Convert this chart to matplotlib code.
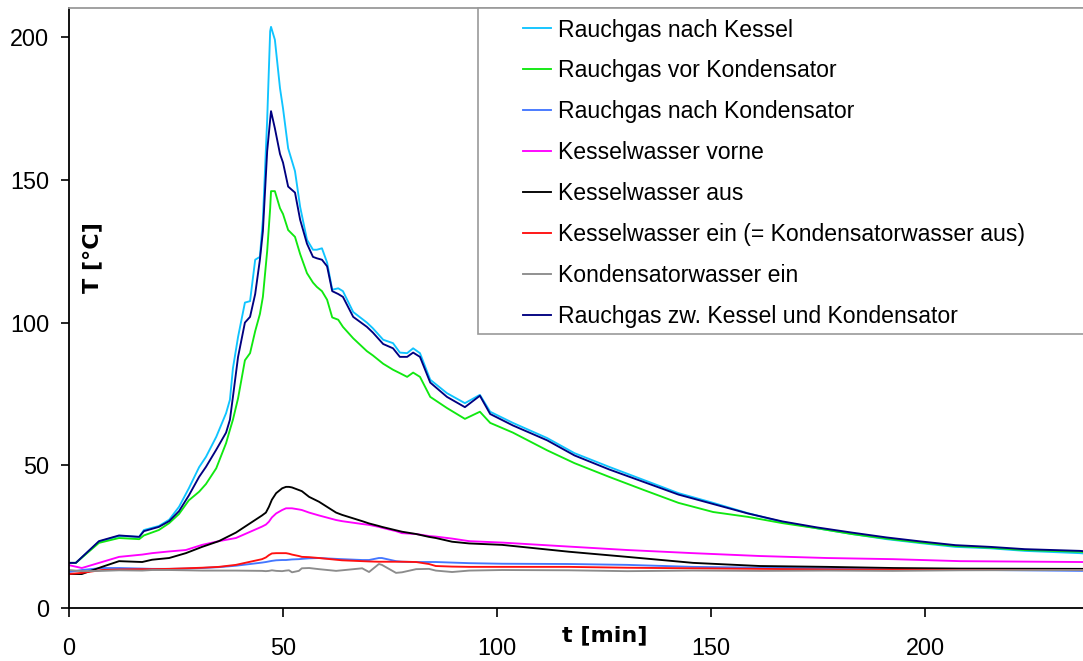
import matplotlib
matplotlib.use("Agg")
import matplotlib.pyplot as plt
from matplotlib.patches import Rectangle

plt.rcParams['font.family'] = ['Liberation Sans', 'DejaVu Sans']

# ---------------- data ----------------
labels = ["Rauchgas nach Kessel", "Rauchgas vor Kondensator", "Rauchgas nach Kondensator",
          "Kesselwasser vorne", "Kesselwasser aus", "Kesselwasser ein (= Kondensatorwasser aus)",
          "Kondensatorwasser ein", "Rauchgas zw. Kessel und Kondensator"]
colors = ["#10C4FF", "#10E810", "#4477FF", "#FF00FF", "#000000", "#FF1010", "#8C8C8C", "#000080"]

t_gas = [0, 1.6, 7.0, 11.7, 16.4, 17.5, 21.0, 23.4, 25.7, 28.0,
         30.4, 32.0, 34.4, 36.7, 37.6, 38.3, 39.5, 41.1, 42.3, 43.5,
         44.6, 45.3, 46.3, 47.0, 47.2, 48.1, 49.3, 50.0, 51.2, 52.8,
         54.0, 55.6, 57.0, 57.9, 59.1, 60.3, 61.5, 62.9, 64.0, 66.4,
         69.6, 71.0, 73.4, 75.7, 77.3, 79.0, 80.4, 82.0, 84.4, 88.3,
         92.5, 96.0, 98.4, 103.7, 111.7, 118.1, 126.2, 134.3, 142.4, 150.5,
         158.6, 166.7, 174.8, 182.9, 191.0, 199.0, 207.1, 215.2, 223.3, 236.2, 237]

T_nach_kessel = [15.9, 15.9, 23.3, 25.3, 25.0, 27.4, 28.8, 31.0, 35.5, 42.0,
                 49.4, 53.0, 60.0, 68.3, 73.0, 84.0, 95.0, 107.0, 107.5, 122.0,
                 123.0, 136.0, 171.0, 202.0, 203.5, 199.0, 182.0, 175.0, 161.0, 153.0,
                 140.5, 129.0, 125.5, 125.5, 126.0, 121.0, 111.5, 112.0, 111.0, 103.7,
                 100.0, 98.0, 94.0, 92.8, 89.5, 89.3, 91.0, 89.3, 80.0, 75.3,
                 71.8, 74.7, 68.8, 64.9, 59.6, 54.3, 49.5, 44.9, 40.3, 36.9,
                 33.3, 30.2, 28.0, 26.0, 24.2, 22.8, 21.5, 21.0, 20.1, 19.3, 19.2]

T_vor_kond = [15.9, 15.9, 22.9, 24.6, 24.2, 25.5, 27.4, 29.8, 33.0, 37.8,
              40.8, 43.5, 49.0, 57.8, 62.5, 66.0, 73.5, 86.8, 89.3, 97.0,
              103.0, 109.0, 125.0, 140.0, 146.0, 146.0, 140.0, 138.0, 132.4, 130.0,
              124.0, 117.3, 114.0, 112.5, 111.0, 108.0, 101.8, 101.0, 98.5, 94.5,
              90.0, 88.5, 85.6, 83.5, 82.3, 81.0, 82.5, 81.0, 74.0, 70.1,
              66.3, 68.8, 64.9, 61.5, 55.3, 50.8, 46.0, 41.4, 36.9, 33.7,
              32.0, 29.8, 28.0, 26.0, 24.4, 23.0, 21.8, 21.2, 20.4, 19.8, 19.7]

T_zw_kessel_kond = [15.9, 15.9, 23.5, 25.5, 25.0, 27.0, 28.5, 30.5, 34.0, 39.5,
                    46.0, 49.5, 55.5, 61.5, 66.0, 74.0, 88.0, 100.0, 102.0, 110.0,
                    122.0, 132.0, 160.0, 171.0, 174.0, 168.0, 159.0, 156.0, 147.6, 145.5,
                    136.0, 127.6, 123.0, 122.5, 122.0, 119.7, 111.0, 110.0, 109.0, 102.0,
                    98.5, 96.5, 92.5, 91.0, 88.0, 88.0, 89.5, 88.0, 79.0, 74.0,
                    70.4, 74.4, 68.0, 64.0, 58.8, 53.5, 48.6, 44.2, 39.8, 36.5,
                    33.2, 30.4, 28.3, 26.5, 24.8, 23.4, 22.1, 21.5, 20.7, 20.1, 20.0]

t_water = [0, 3.0, 7.7, 11.7, 17.1, 19.4, 23.4, 27.3, 31.1, 35.0,
           39.0, 45.1, 46.0, 46.7, 47.4, 48.4, 49.8, 50.7, 51.4, 52.1,
           53.7, 54.4, 56.1, 58.4, 62.4, 63.8, 68.5, 70.1, 72.4, 73.1,
           76.4, 77.8, 81.1, 84.1, 85.7, 89.5, 93.5, 101.2, 116.8, 130.4,
           145.8, 161.4, 177.1, 192.5, 208.2, 236.2, 237]

T_nach_kond = [12.7, 13.4, 14.1, 14.1, 13.9, 13.8, 13.8, 13.9, 14.1, 14.4,
               14.9, 16.0, 16.2, 16.4, 16.6, 16.8, 16.9, 16.9, 17.0, 17.1,
               17.2, 17.3, 17.5, 17.6, 17.3, 17.2, 16.9, 16.9, 17.6, 17.6,
               16.5, 16.3, 16.2, 16.2, 16.2, 16.0, 15.8, 15.6, 15.5, 15.2,
               14.5, 14.2, 14.0, 13.8, 13.5, 13.1, 13.1]

T_kw_vorne = [15.1, 14.1, 16.2, 18.0, 18.8, 19.3, 19.9, 20.4, 22.2, 23.5,
              24.6, 28.6, 29.3, 30.3, 31.8, 33.2, 34.4, 35.0, 35.0, 35.0,
              34.6, 34.4, 33.5, 32.5, 30.9, 30.5, 29.5, 29.2, 28.5, 28.2,
              27.0, 26.3, 26.0, 25.3, 25.1, 24.4, 23.5, 23.0, 21.6, 20.4,
              19.3, 18.3, 17.6, 17.2, 16.5, 16.2, 16.2]

T_kw_aus = [12.0, 12.0, 14.5, 16.5, 16.2, 17.0, 17.6, 19.3, 21.5, 23.5,
            26.5, 32.5, 33.5, 35.5, 38.0, 40.3, 42.0, 42.5, 42.5, 42.3,
            41.4, 41.0, 39.0, 37.3, 33.5, 32.7, 30.5, 29.7, 28.8, 28.5,
            27.3, 26.8, 26.0, 25.0, 24.6, 23.3, 22.7, 22.2, 19.8, 18.0,
            15.9, 14.8, 14.5, 14.1, 13.9, 13.8, 13.8]

T_kw_ein = [12.0, 12.4, 13.4, 13.6, 13.7, 13.7, 13.8, 14.0, 14.2, 14.5,
            15.2, 17.2, 17.8, 18.6, 19.2, 19.3, 19.3, 19.3, 19.1, 18.8,
            18.3, 18.0, 17.9, 17.6, 17.0, 16.8, 16.5, 16.4, 16.3, 16.3,
            16.3, 16.3, 16.2, 15.5, 14.8, 14.6, 14.5, 14.5, 14.5, 14.2,
            14.0, 13.8, 13.6, 13.5, 13.4, 13.4, 13.4]

T_kondw_ein = [13.4, 13.0, 13.1, 13.3, 13.2, 13.4, 13.4, 13.3, 13.2, 13.2,
               13.2, 13.1, 13.0, 13.1, 13.3, 13.1, 13.0, 13.2, 13.3, 12.6,
               13.1, 14.0, 14.1, 13.7, 13.1, 13.3, 14.0, 12.7, 15.5, 15.2,
               12.4, 12.6, 13.7, 13.8, 13.2, 12.7, 13.2, 13.4, 13.3, 13.0,
               13.2, 13.1, 13.2, 13.1, 13.3, 13.4, 13.4]

x_ticks = [0, 50, 100, 150, 200]
y_ticks = [0, 50, 100, 150, 200]

series = [(t_gas, T_nach_kessel), (t_gas, T_vor_kond), (t_water, T_nach_kond),
          (t_water, T_kw_vorne), (t_water, T_kw_aus), (t_water, T_kw_ein),
          (t_water, T_kondw_ein), (t_gas, T_zw_kessel_kond)]

# ---------------- figure ----------------
W, H = 1083, 661
fig = plt.figure(figsize=(W / 100, H / 100), dpi=100)
ax_left, ax_bottom, ax_right, ax_top = 69, 608.3, 1083.4, 8.3
ax = fig.add_axes([ax_left / W, 1 - ax_bottom / H, (ax_right - ax_left) / W, (ax_bottom - ax_top) / H])

handles = []
for (tx, ty), c, lab in zip(series, colors, labels):
    h, = ax.plot(tx, ty, color=c, lw=1.35, label=lab)
    handles.append(h)

ax.set_xlim(0, 237)
ax.set_ylim(0, 210)
ax.set_xticks(x_ticks)
ax.set_yticks(y_ticks)
ax.set_xticklabels([str(v) for v in x_ticks])
ax.set_yticklabels([str(v) for v in y_ticks])

for s in ['left', 'bottom']:
    ax.spines[s].set_color('black')
    ax.spines[s].set_linewidth(1.3)
ax.spines['top'].set_color('#9a9a9a')
ax.spines['top'].set_linewidth(1.3)
ax.spines['right'].set_visible(False)

ax.tick_params(axis='y', direction='out', length=5.8, width=1.2, pad=8.4, labelsize=16.8)
ax.tick_params(axis='x', direction='out', length=6.5, width=1.2, pad=14, labelsize=16.8)

# axis titles
fig.text(604.5 / W, 1 - 635 / H, "t [min]", ha='center', va='center',
         fontsize=16, fontweight='bold', family='DejaVu Sans')
fig.text(92.5 / W, 1 - 258 / H, "T [°C]", ha='center', va='center', rotation=90,
         fontsize=16, fontweight='bold', family='DejaVu Sans')

# legend box
fig.add_artist(Rectangle((477.8 / W, 1 - 334 / H), (1120 - 477.8) / W, (334 - 8.3) / H,
                         transform=fig.transFigure, facecolor='white', edgecolor='#9a9a9a',
                         lw=1.2, zorder=1))
fs = 16.6
fs_px = fs * 100 / 72
fig.legend(handles, labels, loc='upper left', bbox_to_anchor=(523 / W, 1 - 18.5 / H),
           frameon=False, borderpad=0, borderaxespad=0, fontsize=fs,
           handlelength=28 / fs_px, handletextpad=7 / fs_px, labelspacing=0.78)

fig.savefig("out.png", dpi=100)
